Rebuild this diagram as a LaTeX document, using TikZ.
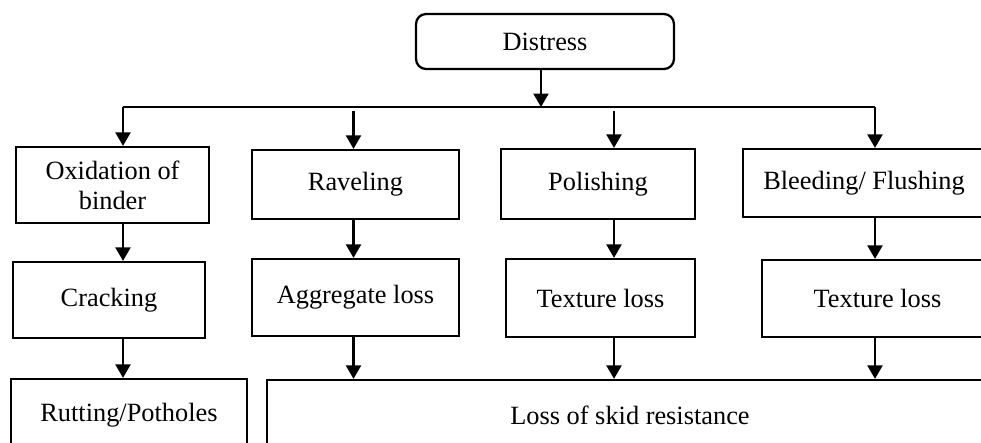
\documentclass[tikz,border=0pt]{standalone}
\usepackage{fontspec}
\setmainfont{Liberation Serif}
\usetikzlibrary{arrows.meta}

\begin{document}
\begin{tikzpicture}[x=0.02cm,y=-0.02cm,line width=1.3pt,
  box/.style={draw,rectangle,inner sep=2pt,align=center,font=\fontsize{15}{17}\selectfont},
  arr/.style={-{Triangle[width=0.3cm,length=0.27cm]}}]
\useasboundingbox (0,0) rectangle (981,443);
\clip (0,0) rectangle (981,443);
% boxes
\node[box,rounded corners=0.2cm,minimum width=5.16cm,minimum height=1.10cm] (distress) at (545,41.5) {Distress};
\node[box,minimum width=3.86cm,minimum height=1.52cm] (oxid) at (112.5,185) {Oxidation of\\binder};
\node[box,minimum width=4.14cm,minimum height=1.38cm] (ravel) at (355.5,184.5) {Raveling};
\node[box,minimum width=3.88cm,minimum height=1.40cm] (polish) at (598,184) {Polishing};
\node[box,minimum width=4.84cm,minimum height=1.36cm] (bleed) at (864,183) {Bleeding/ Flushing};
\node[box,minimum width=3.84cm,minimum height=1.52cm] (crack) at (109,300) {Cracking};
\node[box,minimum width=4.14cm,minimum height=1.54cm] (aggr) at (355.5,297.5) {Aggregate loss};
\node[box,minimum width=3.78cm,minimum height=1.56cm] (texA) at (600.5,298) {Texture loss};
\node[box,minimum width=4.62cm,minimum height=1.54cm] (texB) at (877.5,298.5) {Texture loss};
\node[box,minimum width=4.72cm,minimum height=1.44cm] (rut) at (129,415) {Rutting/Potholes};
\node[box,minimum width=14.52cm,minimum height=1.42cm] (loss) at (630,415.5) {Loss of skid resistance};
% branch points
\coordinate (hub) at (541,107);
\coordinate (colA) at (123,107);
\coordinate (colB) at (353.5,111);
\coordinate (colC) at (614,111);
\coordinate (colD) at (875,107);
% connectors
\draw[arr] (distress.south -| hub) -- (hub);
\draw (colA) -- (colD);
\draw[arr] (colA) -- (oxid.north -| colA);
\draw[arr] (colB) -- (ravel.north -| colB);
\draw[arr] (colC) -- (polish.north -| colC);
\draw[arr] (colD) -- (bleed.north -| colD);
\draw[arr] (oxid.south -| colA) -- (crack.north -| colA);
\draw[arr] (crack.south -| colA) -- (rut.north -| colA);
\draw[arr] (ravel.south -| colB) -- (aggr.north -| colB);
\draw[arr] (polish.south -| colC) -- (texA.north -| colC);
\draw[arr] (bleed.south -| colD) -- (texB.north -| colD);
\foreach \n/\c in {aggr/colB,texA/colC,texB/colD}
{	\draw[arr] (\n.south -| \c) -- (loss.north -| \c);
}
\end{tikzpicture}
\end{document}
